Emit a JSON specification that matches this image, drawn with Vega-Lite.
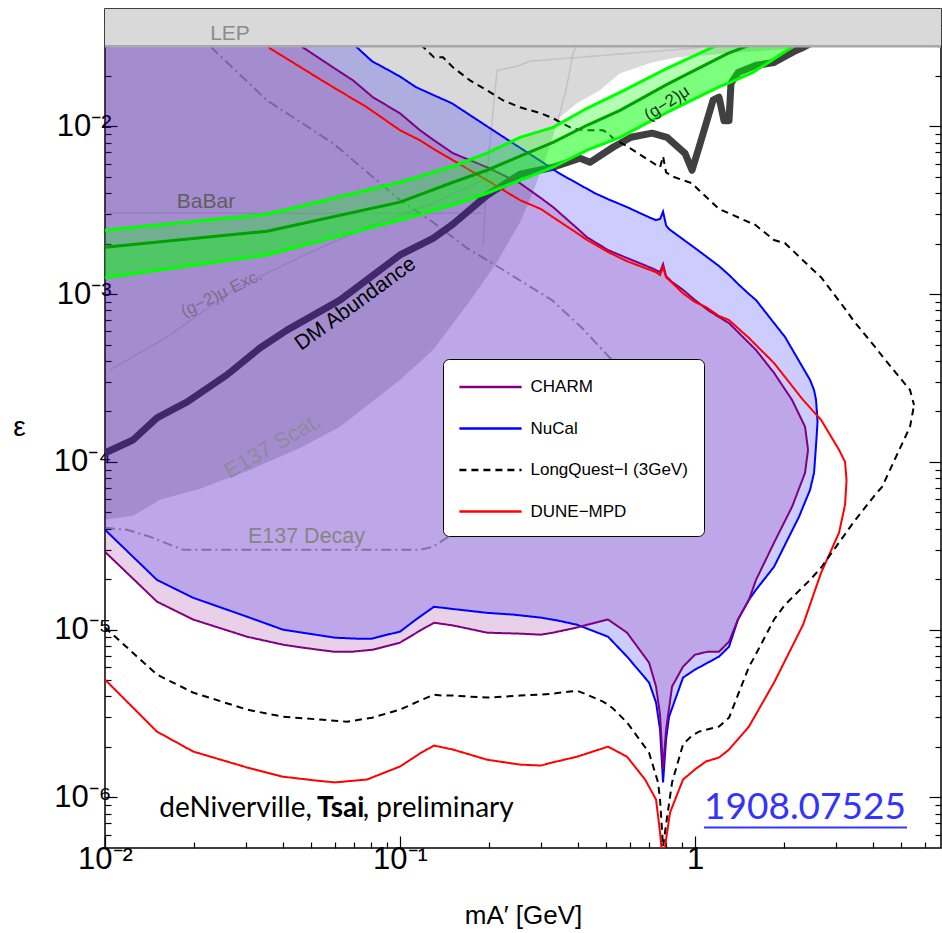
{
"$schema":"https://vega.github.io/schema/vega-lite/v6.json",
"width":836,"height":839,
"autosize":{"type":"none"},
"padding":{"left":105,"top":9,"right":1,"bottom":85},
"background":"white",
"config":{
 "font":"Liberation Sans",
 "view":{"stroke":"black","strokeWidth":1.5},
 "axis":{"domain":false,"grid":false,"tickColor":"black","tickWidth":1.2,"labelColor":"black","titleColor":"black","titleFontWeight":"normal","labelFont":"Liberation Sans","titleFont":"Liberation Sans"}
},
"datasets":{
 "gray":[{"m":0.01,"lo":4.52e-5},{"m":0.01244,"lo":4.77e-5},{"m":0.01536,"lo":5.94e-5},{"m":0.021,"lo":6.91e-5},{"m":0.031,"lo":8.96e-5},{"m":0.0458,"lo":1.21e-4},{"m":0.0626,"lo":1.62e-4},{"m":0.1,"lo":3.08e-4},{"m":0.1294,"lo":4.64e-4},{"m":0.1687,"lo":8.6e-4},{"m":0.2132,"lo":1.55e-3},{"m":0.2551,"lo":2.68e-3},{"m":0.2824,"lo":4.05e-3},{"m":0.3101,"lo":6.27e-3},{"m":0.3379,"lo":9.86e-3},{"m":0.3486,"lo":0.01131},{"m":0.3981,"lo":0.0137},{"m":0.4764,"lo":0.01638},{"m":0.5569,"lo":0.02067},{"m":0.715,"lo":0.024},{"m":0.869,"lo":0.02575},{"m":1.064,"lo":0.02646},{"m":1.3985,"lo":0.02757},{"m":1.796,"lo":0.02835},{"m":2.3237,"lo":0.0295},{"m":2.493,"lo":0.0303}],
 "faint":[
  {"id":"arc","m":0.3379,"e":0.00986},{"id":"arc","m":0.3653,"e":0.01638},{"id":"arc","m":0.3859,"e":0.0272},{"id":"arc","m":0.395,"e":0.03},
  {"id":"babar","m":0.01,"e":0.00303},{"id":"babar","m":0.19,"e":0.00303},
  {"id":"b","m":0.1911,"e":0.00196},{"id":"b","m":0.1972,"e":0.00525},{"id":"b","m":0.2132,"e":0.02153},{"id":"b","m":0.2493,"e":0.02277},{"id":"b","m":0.2759,"e":0.02438},{"id":"b","m":0.8039,"e":0.02835},{"id":"b","m":1.0397,"e":0.0295},
  {"id":"g2exc","m":0.0104,"e":3.53e-4},{"id":"g2exc","m":0.01623,"e":5.55e-4},{"id":"g2exc","m":0.02716,"e":1.06e-3},{"id":"g2exc","m":0.0458,"e":1.66e-3},{"id":"g2exc","m":0.0773,"e":2.51e-3},{"id":"g2exc","m":0.1294,"e":3.48e-3},{"id":"g2exc","m":0.1911,"e":4.77e-3}
 ],
 "e137d":[{"o":1,"m":0.01,"e":4.05e-5},{"o":2,"m":0.01187,"e":3.94e-5},{"o":3,"m":0.01421,"e":3.58e-5},{"o":4,"m":0.01838,"e":2.99e-5},{"o":5,"m":0.0458,"e":2.99e-5},{"o":6,"m":0.1169,"e":2.99e-5},{"o":7,"m":0.1294,"e":3.12e-5},{"o":8,"m":0.1443,"e":3.53e-5},{"o":9,"m":0.2551,"e":5.94e-5},{"o":10,"m":0.651,"e":1.55e-4},{"o":11,"m":0.701,"e":2.68e-4},{"o":12,"m":0.5111,"e":4.22e-4},{"o":13,"m":0.4107,"e":6.37e-4},{"o":14,"m":0.3275,"e":9.21e-4},{"o":15,"m":0.2183,"e":1.43e-3},{"o":16,"m":0.1687,"e":1.88e-3},{"o":17,"m":0.1294,"e":2.68e-3},{"o":18,"m":0.1,"e":3.63e-3},{"o":19,"m":0.0593,"e":7.92e-3},{"o":20,"m":0.0354,"e":0.01428},{"o":21,"m":0.0227,"e":0.03},{"o":22,"m":0.02,"e":0.036}],
 "dm":[{"m":0.01,"e":1.13e-4},{"m":0.01244,"e":1.35e-4},{"m":0.015,"e":1.83e-4},{"m":0.019,"e":2.28e-4},{"m":0.0259,"e":3.3e-4},{"m":0.0335,"e":4.77e-4},{"m":0.0414,"e":6.1e-4},{"m":0.0626,"e":9.21e-4},{"m":0.1,"e":1.71e-3},{"m":0.1294,"e":2.15e-3},{"m":0.1512,"e":2.61e-3},{"m":0.1972,"e":3.88e-3},{"m":0.2551,"e":5.18e-3},{"m":0.3302,"e":5.7e-3},{"m":0.4075,"e":6.45e-3},{"m":0.4406,"e":6.1e-3},{"m":0.5272,"e":7.5e-3},{"m":0.607,"e":8.6e-3},{"m":0.715,"e":9.1e-3},{"m":0.8039,"e":8.6e-3},{"m":0.9251,"e":6.9e-3},{"m":0.9769,"e":5.47e-3},{"m":1.0317,"e":7.5e-3},{"m":1.151,"e":0.0143},{"m":1.206,"e":0.0149},{"m":1.254,"e":0.0108},{"m":1.304,"e":0.0108},{"m":1.324,"e":0.018},{"m":1.399,"e":0.0209},{"m":1.61,"e":0.0231},{"m":1.853,"e":0.024},{"m":2.2,"e":0.0283},{"m":2.3237,"e":0.0295},{"m":2.45,"e":0.031}],
 "curves":[
  {"s":"NuCal","m":0.01,"lo":3.94e-5,"hi":0.05},{"s":"NuCal","m":0.015,"lo":1.98e-5,"hi":0.05},{"s":"NuCal","m":0.01988,"lo":1.55e-5,"hi":0.05},{"s":"NuCal","m":0.0303,"lo":1.195e-5,"hi":0.05},{"s":"NuCal","m":0.04013,"lo":1.0e-5,"hi":0.05},{"s":"NuCal","m":0.06021,"lo":8.96e-6,"hi":0.05},{"s":"NuCal","m":0.0715,"lo":8.84e-6,"hi":0.0295},{"s":"NuCal","m":0.0804,"lo":8.84e-6,"hi":0.0244},{"s":"NuCal","m":0.0876,"lo":9.21e-6,"hi":0.0225},{"s":"NuCal","m":0.1,"lo":9.73e-6,"hi":0.0198},{"s":"NuCal","m":0.1133,"lo":1.15e-5,"hi":0.0171},{"s":"NuCal","m":0.1304,"lo":1.37e-5,"hi":0.0153},{"s":"NuCal","m":0.1501,"lo":1.33e-5,"hi":0.0137},{"s":"NuCal","m":0.1972,"lo":1.26e-5,"hi":0.01},{"s":"NuCal","m":0.2416,"lo":1.23e-5,"hi":0.00792},{"s":"NuCal","m":0.3006,"lo":1.18e-5,"hi":0.00619},{"s":"NuCal","m":0.3459,"lo":1.13e-5,"hi":0.00525},{"s":"NuCal","m":0.3981,"lo":1.07e-5,"hi":0.00458},{"s":"NuCal","m":0.4581,"lo":9.73e-6,"hi":0.00399},{"s":"NuCal","m":0.507,"lo":9.08e-6,"hi":0.00368},{"s":"NuCal","m":0.5882,"lo":6.91e-6,"hi":0.0033},{"s":"NuCal","m":0.6985,"lo":4.84e-6,"hi":0.00287},{"s":"NuCal","m":0.7377,"lo":3.68e-6,"hi":0.00276},{"s":"NuCal","m":0.7611,"lo":2.54e-6,"hi":0.0028},{"s":"NuCal","m":0.7792,"lo":1.23e-6,"hi":0.0031},{"s":"NuCal","m":0.7977,"lo":2.21e-6,"hi":0.00257},{"s":"NuCal","m":0.8166,"lo":3.03e-6,"hi":0.00244},{"s":"NuCal","m":0.9107,"lo":5.18e-6,"hi":0.00212},{"s":"NuCal","m":1.0,"lo":5.78e-6,"hi":0.00188},{"s":"NuCal","m":1.206,"lo":6.91e-6,"hi":0.00147},{"s":"NuCal","m":1.304,"lo":7.92e-6,"hi":0.0013},{"s":"NuCal","m":1.3985,"lo":1.15e-5,"hi":0.00115},{"s":"NuCal","m":1.524,"lo":1.51e-5,"hi":0.001},{"s":"NuCal","m":1.61,"lo":1.73e-5,"hi":9.21e-4},{"s":"NuCal","m":1.853,"lo":2.37e-5,"hi":6.72e-4},{"s":"NuCal","m":2.019,"lo":3.21e-5,"hi":5.55e-4},{"s":"NuCal","m":2.252,"lo":4.71e-5,"hi":3.99e-4},{"s":"NuCal","m":2.454,"lo":6.81e-5,"hi":3.08e-4},{"s":"NuCal","m":2.532,"lo":8.6e-5,"hi":2.68e-4},{"s":"NuCal","m":2.572,"lo":1.26e-4,"hi":2.34e-4},{"s":"NuCal","m":2.602,"lo":1.73e-4,"hi":1.73e-4},
  {"s":"CHARM","m":0.01,"lo":2.91e-5,"hi":0.05},{"s":"CHARM","m":0.015,"lo":1.47e-5,"hi":0.05},{"s":"CHARM","m":0.01988,"lo":1.15e-5,"hi":0.05},{"s":"CHARM","m":0.0303,"lo":9.08e-6,"hi":0.05},{"s":"CHARM","m":0.04013,"lo":8.14e-6,"hi":0.05},{"s":"CHARM","m":0.04691,"lo":7.81e-6,"hi":0.0295},{"s":"CHARM","m":0.05928,"lo":7.4e-6,"hi":0.02245},{"s":"CHARM","m":0.06929,"lo":7.4e-6,"hi":0.01878},{"s":"CHARM","m":0.081,"lo":7.6e-6,"hi":0.01488},{"s":"CHARM","m":0.1,"lo":8.37e-6,"hi":0.01195},{"s":"CHARM","m":0.1169,"lo":9.87e-6,"hi":0.00947},{"s":"CHARM","m":0.1304,"lo":1.1e-5,"hi":0.00825},{"s":"CHARM","m":0.1512,"lo":1.06e-5,"hi":0.00691},{"s":"CHARM","m":0.1972,"lo":9.6e-6,"hi":0.0057},{"s":"CHARM","m":0.2551,"lo":9.47e-6,"hi":0.00458},{"s":"CHARM","m":0.3006,"lo":9.34e-6,"hi":0.00373},{"s":"CHARM","m":0.3302,"lo":9.6e-6,"hi":0.0033},{"s":"CHARM","m":0.3981,"lo":1.03e-5,"hi":0.00247},{"s":"CHARM","m":0.4305,"lo":1.07e-5,"hi":0.00218},{"s":"CHARM","m":0.507,"lo":1.15e-5,"hi":0.00183},{"s":"CHARM","m":0.5882,"lo":9.6e-6,"hi":0.00164},{"s":"CHARM","m":0.6985,"lo":6.36e-6,"hi":0.00145},{"s":"CHARM","m":0.7377,"lo":4.58e-6,"hi":0.00139},{"s":"CHARM","m":0.7611,"lo":3.12e-6,"hi":0.00135},{"s":"CHARM","m":0.7792,"lo":1.47e-6,"hi":0.00151},{"s":"CHARM","m":0.7977,"lo":2.54e-6,"hi":0.00128},{"s":"CHARM","m":0.8359,"lo":4.58e-6,"hi":0.00118},{"s":"CHARM","m":0.9107,"lo":6.02e-6,"hi":0.00106},{"s":"CHARM","m":1.0,"lo":7.1e-6,"hi":9.21e-4},{"s":"CHARM","m":1.1067,"lo":7.4e-6,"hi":8.03e-4},{"s":"CHARM","m":1.206,"lo":7.4e-6,"hi":7.29e-4},{"s":"CHARM","m":1.304,"lo":8.48e-6,"hi":6.72e-4},{"s":"CHARM","m":1.3985,"lo":1.15e-5,"hi":5.94e-4},{"s":"CHARM","m":1.524,"lo":1.51e-5,"hi":5.11e-4},{"s":"CHARM","m":1.61,"lo":1.98e-5,"hi":4.64e-4},{"s":"CHARM","m":1.853,"lo":3.3e-5,"hi":3.39e-4},{"s":"CHARM","m":2.1327,"lo":5.4e-5,"hi":2.34e-4},{"s":"CHARM","m":2.36,"lo":8.6e-5,"hi":1.62e-4},{"s":"CHARM","m":2.416,"lo":1.18e-4,"hi":1.18e-4},
  {"s":"DUNE−MPD","m":0.01,"lo":5.04e-6,"hi":0.05},{"s":"DUNE−MPD","m":0.015,"lo":2.47e-6,"hi":0.05},{"s":"DUNE−MPD","m":0.01988,"lo":1.88e-6,"hi":0.05},{"s":"DUNE−MPD","m":0.0303,"lo":1.51e-6,"hi":0.05},{"s":"DUNE−MPD","m":0.03626,"lo":1.39e-6,"hi":0.0291},{"s":"DUNE−MPD","m":0.04013,"lo":1.33e-6,"hi":0.0261},{"s":"DUNE−MPD","m":0.05232,"lo":1.26e-6,"hi":0.01957},{"s":"DUNE−MPD","m":0.06021,"lo":1.23e-6,"hi":0.01684},{"s":"DUNE−MPD","m":0.0773,"lo":1.28e-6,"hi":0.01297},{"s":"DUNE−MPD","m":0.1,"lo":1.53e-6,"hi":0.00947},{"s":"DUNE−MPD","m":0.1169,"lo":1.83e-6,"hi":0.00825},{"s":"DUNE−MPD","m":0.1304,"lo":2.04e-6,"hi":0.0073},{"s":"DUNE−MPD","m":0.1512,"lo":1.93e-6,"hi":0.00627},{"s":"DUNE−MPD","m":0.1972,"lo":1.68e-6,"hi":0.00477},{"s":"DUNE−MPD","m":0.2551,"lo":1.57e-6,"hi":0.00363},{"s":"DUNE−MPD","m":0.3006,"lo":1.55e-6,"hi":0.00321},{"s":"DUNE−MPD","m":0.3302,"lo":1.62e-6,"hi":0.00287},{"s":"DUNE−MPD","m":0.3981,"lo":1.75e-6,"hi":0.00231},{"s":"DUNE−MPD","m":0.4305,"lo":1.83e-6,"hi":0.0021},{"s":"DUNE−MPD","m":0.507,"lo":2.01e-6,"hi":0.00178},{"s":"DUNE−MPD","m":0.5882,"lo":1.75e-6,"hi":0.00157},{"s":"DUNE−MPD","m":0.677,"lo":1.28e-6,"hi":0.00143},{"s":"DUNE−MPD","m":0.7377,"lo":9.73e-7,"hi":0.00135},{"s":"DUNE−MPD","m":0.7611,"lo":6.19e-7,"hi":0.0013},{"s":"DUNE−MPD","m":0.7792,"lo":4e-7,"hi":0.00145},{"s":"DUNE−MPD","m":0.7977,"lo":5.62e-7,"hi":0.00126},{"s":"DUNE−MPD","m":0.823,"lo":8.14e-7,"hi":0.0012},{"s":"DUNE−MPD","m":0.9107,"lo":1.28e-6,"hi":0.00101},{"s":"DUNE−MPD","m":1.0,"lo":1.47e-6,"hi":8.96e-4},{"s":"DUNE−MPD","m":1.0896,"lo":1.64e-6,"hi":8.37e-4},{"s":"DUNE−MPD","m":1.206,"lo":1.73e-6,"hi":7.4e-4},{"s":"DUNE−MPD","m":1.304,"lo":1.93e-6,"hi":7.0e-4},{"s":"DUNE−MPD","m":1.524,"lo":2.65e-6,"hi":5.47e-4},{"s":"DUNE−MPD","m":1.853,"lo":4.84e-6,"hi":3.88e-4},{"s":"DUNE−MPD","m":2.3237,"lo":1.07e-5,"hi":2.34e-4},{"s":"DUNE−MPD","m":2.674,"lo":2.18e-5,"hi":1.78e-4},{"s":"DUNE−MPD","m":3.077,"lo":3.78e-5,"hi":1.18e-4},{"s":"DUNE−MPD","m":3.225,"lo":5.55e-5,"hi":1.0e-4},{"s":"DUNE−MPD","m":3.263,"lo":7.8e-5,"hi":7.8e-5},
  {"s":"LongQuest−I (3GeV)","m":0.01,"lo":1.03e-5,"hi":0.05},{"s":"LongQuest−I (3GeV)","m":0.015,"lo":5.4e-6,"hi":0.05},{"s":"LongQuest−I (3GeV)","m":0.01988,"lo":4.22e-6,"hi":0.05},{"s":"LongQuest−I (3GeV)","m":0.0303,"lo":3.34e-6,"hi":0.05},{"s":"LongQuest−I (3GeV)","m":0.04013,"lo":3.03e-6,"hi":0.05},{"s":"LongQuest−I (3GeV)","m":0.06612,"lo":2.83e-6,"hi":0.05},{"s":"LongQuest−I (3GeV)","m":0.08037,"lo":2.99e-6,"hi":0.05},{"s":"LongQuest−I (3GeV)","m":0.1,"lo":3.34e-6,"hi":0.05},{"s":"LongQuest−I (3GeV)","m":0.1169,"lo":3.78e-6,"hi":0.031},{"s":"LongQuest−I (3GeV)","m":0.1304,"lo":4.1e-6,"hi":0.02575},{"s":"LongQuest−I (3GeV)","m":0.1399,"lo":4.05e-6,"hi":0.02575},{"s":"LongQuest−I (3GeV)","m":0.1512,"lo":4.05e-6,"hi":0.02245},{"s":"LongQuest−I (3GeV)","m":0.1727,"lo":3.99e-6,"hi":0.01878},{"s":"LongQuest−I (3GeV)","m":0.1972,"lo":3.94e-6,"hi":0.01638},{"s":"LongQuest−I (3GeV)","m":0.2235,"lo":3.99e-6,"hi":0.01428},{"s":"LongQuest−I (3GeV)","m":0.2551,"lo":4.05e-6,"hi":0.01297},{"s":"LongQuest−I (3GeV)","m":0.3006,"lo":4.1e-6,"hi":0.01195},{"s":"LongQuest−I (3GeV)","m":0.3302,"lo":4.16e-6,"hi":0.01116},{"s":"LongQuest−I (3GeV)","m":0.377,"lo":4.28e-6,"hi":0.00986},{"s":"LongQuest−I (3GeV)","m":0.3981,"lo":4.33e-6,"hi":0.0096},{"s":"LongQuest−I (3GeV)","m":0.4305,"lo":4.1e-6,"hi":0.00947},{"s":"LongQuest−I (3GeV)","m":0.4876,"lo":3.73e-6,"hi":0.00947},{"s":"LongQuest−I (3GeV)","m":0.507,"lo":3.58e-6,"hi":0.00908},{"s":"LongQuest−I (3GeV)","m":0.5272,"lo":3.39e-6,"hi":0.00848},{"s":"LongQuest−I (3GeV)","m":0.5882,"lo":2.8e-6,"hi":0.0076},{"s":"LongQuest−I (3GeV)","m":0.6985,"lo":1.85e-6,"hi":0.00627},{"s":"LongQuest−I (3GeV)","m":0.7493,"lo":1.23e-6,"hi":0.00578},{"s":"LongQuest−I (3GeV)","m":0.7611,"lo":9.73e-7,"hi":0.0057},{"s":"LongQuest−I (3GeV)","m":0.7792,"lo":5.11e-7,"hi":0.00663},{"s":"LongQuest−I (3GeV)","m":0.7977,"lo":6.91e-7,"hi":0.00532},{"s":"LongQuest−I (3GeV)","m":0.8359,"lo":1.23e-6,"hi":0.00504},{"s":"LongQuest−I (3GeV)","m":0.9107,"lo":2.07e-6,"hi":0.00477},{"s":"LongQuest−I (3GeV)","m":0.9769,"lo":2.34e-6,"hi":0.00458},{"s":"LongQuest−I (3GeV)","m":1.0317,"lo":2.47e-6,"hi":0.00416},{"s":"LongQuest−I (3GeV)","m":1.206,"lo":2.65e-6,"hi":0.00321},{"s":"LongQuest−I (3GeV)","m":1.304,"lo":2.99e-6,"hi":0.00303},{"s":"LongQuest−I (3GeV)","m":1.524,"lo":6.02e-6,"hi":0.00268},{"s":"LongQuest−I (3GeV)","m":1.5725,"lo":6.63e-6,"hi":0.00265},{"s":"LongQuest−I (3GeV)","m":1.853,"lo":1.15e-5,"hi":0.0021},{"s":"LongQuest−I (3GeV)","m":2.019,"lo":1.41e-5,"hi":0.00201},{"s":"LongQuest−I (3GeV)","m":2.454,"lo":1.98e-5,"hi":0.00145},{"s":"LongQuest−I (3GeV)","m":2.674,"lo":2.34e-5,"hi":0.00126},{"s":"LongQuest−I (3GeV)","m":3.25,"lo":3.78e-5,"hi":8.03e-4},{"s":"LongQuest−I (3GeV)","m":3.433,"lo":4.33e-5,"hi":7.0e-4},{"s":"LongQuest−I (3GeV)","m":4.076,"lo":6.36e-5,"hi":4.84e-4},{"s":"LongQuest−I (3GeV)","m":4.305,"lo":7.1e-5,"hi":4.28e-4},{"s":"LongQuest−I (3GeV)","m":5.356,"lo":1.62e-4,"hi":2.68e-4},{"s":"LongQuest−I (3GeV)","m":5.526,"lo":2.18e-4,"hi":2.18e-4}
 ],
 "g2":[{"m":0.01,"top":2.4e-3,"cen":1.9e-3,"bot":1.25e-3},{"m":0.03542,"top":2.99e-3,"cen":2.37e-3,"bot":1.71e-3},{"m":0.1,"top":4.64e-3,"cen":3.53e-3,"bot":2.76e-3},{"m":0.1512,"top":5.78e-3,"cen":4.64e-3,"bot":3.39e-3},{"m":0.1972,"top":6.91e-3,"cen":5.47e-3,"bot":3.99e-3},{"m":0.2551,"top":8.6e-3,"cen":6.63e-3,"bot":4.77e-3},{"m":0.3302,"top":9.86e-3,"cen":8.03e-3,"bot":5.7e-3},{"m":0.4305,"top":0.0128,"cen":0.01014,"bot":7.2e-3},{"m":0.5569,"top":0.01594,"cen":0.01245,"bot":8.6e-3},{"m":0.8039,"top":0.02214,"cen":0.01778,"bot":0.01211},{"m":1.2155,"top":0.031,"cen":0.02575,"bot":0.0173},{"m":1.2939,"top":0.04,"cen":0.0272,"bot":0.01803},{"m":1.5725,"top":0.04,"cen":0.031,"bot":0.02096},{"m":2.1327,"top":0.04,"cen":0.04,"bot":0.02953},{"m":2.27,"top":0.04,"cen":0.04,"bot":0.032}],
 "lep":[{"m1":0.01,"m2":6.82,"e1":0.03,"e2":0.05}]
},
"resolve":{"axis":{"x":"independent","y":"independent"}},
"layer":[
 {"data":{"name":"gray"},"mark":{"type":"area","color":"black","opacity":0.15,"clip":true},
  "encoding":{
   "x":{"field":"m","type":"quantitative","scale":{"type":"log","domain":[0.01,6.82],"nice":false},
    "axis":{"orient":"bottom","title":"mA′ [GeV]","values":[0.01,0.02,0.03,0.04,0.05,0.06,0.07,0.08,0.09,0.1,0.2,0.3,0.4,0.5,0.6,0.7,0.8,0.9,1,2,3,4,5,6],
     "labelExpr":"datum.value==0.01?'10⁻²':datum.value==0.1?'10⁻¹':datum.value==1?'1':''","labelFlush":false,"labelOverlap":false,"labelFontSize":31,"labelPadding":8,
     "tickSize":{"condition":{"test":"datum.value==0.01||datum.value==0.1||datum.value==1","value":-12},"value":-6},
     "titleFontSize":26,"titleY":67,"titleBaseline":"middle"}},
   "y":{"field":"lo","type":"quantitative","scale":{"type":"log","domain":[5e-7,0.05],"nice":false},
    "axis":{"orient":"left","title":"ε","values":[6e-7,7e-7,8e-7,9e-7,1e-6,2e-6,3e-6,4e-6,5e-6,6e-6,7e-6,8e-6,9e-6,1e-5,2e-5,3e-5,4e-5,5e-5,6e-5,7e-5,8e-5,9e-5,1e-4,2e-4,3e-4,4e-4,5e-4,6e-4,7e-4,8e-4,9e-4,0.001,0.002,0.003,0.004,0.005,0.006,0.007,0.008,0.009,0.01,0.02,0.03,0.04],
     "labelExpr":"datum.value==0.01?'10⁻²':datum.value==0.001?'10⁻³':datum.value==0.0001?'10⁻⁴':datum.value==0.00001?'10⁻⁵':datum.value==0.000001?'10⁻⁶':''","labelFlush":false,"labelOverlap":false,"labelFontSize":31,"labelPadding":6,
     "tickSize":{"condition":{"test":"datum.value==0.01||datum.value==0.001||datum.value==0.0001||datum.value==0.00001||datum.value==0.000001","value":-12},"value":-6},
     "titleFontSize":28,"titleAngle":0,"titleX":-86,"titleY":418,"titleAlign":"center","titleBaseline":"middle"}},
   "y2":{"datum":0.05}}},
 {"data":{"name":"faint"},"mark":{"type":"line","color":"#b4b4b4","opacity":0.6,"strokeWidth":1.5,"clip":true},
  "encoding":{"x":{"field":"m","type":"quantitative","scale":{"type":"log","domain":[0.01,6.82],"nice":false},"axis":null},
   "y":{"field":"e","type":"quantitative","scale":{"type":"log","domain":[5e-7,0.05],"nice":false},"axis":null},
   "detail":{"field":"id"}}},
 {"data":{"name":"e137d"},"mark":{"type":"line","color":"#707070","opacity":0.6,"strokeWidth":2,"strokeDash":[10,4,2,4],"clip":true},
  "encoding":{"x":{"field":"m","type":"quantitative","scale":{"type":"log","domain":[0.01,6.82],"nice":false},"axis":null},
   "y":{"field":"e","type":"quantitative","scale":{"type":"log","domain":[5e-7,0.05],"nice":false},"axis":null},
   "order":{"field":"o"}}},
 {"data":{"name":"dm"},"mark":{"type":"line","color":"#404040","strokeWidth":7,"strokeJoin":"round","clip":true},
  "encoding":{"x":{"field":"m","type":"quantitative","scale":{"type":"log","domain":[0.01,6.82],"nice":false},"axis":null},
   "y":{"field":"e","type":"quantitative","scale":{"type":"log","domain":[5e-7,0.05],"nice":false},"axis":null}}},
 {"data":{"name":"curves"},"transform":[{"filter":"datum.s=='NuCal'"}],"mark":{"type":"area","color":"#0000ff","opacity":0.2,"clip":true},
  "encoding":{"x":{"field":"m","type":"quantitative","scale":{"type":"log","domain":[0.01,6.82],"nice":false},"axis":null},
   "y":{"field":"lo","type":"quantitative","scale":{"type":"log","domain":[5e-7,0.05],"nice":false},"axis":null},
   "y2":{"field":"hi"}}},
 {"data":{"name":"curves"},"transform":[{"filter":"datum.s=='CHARM'"}],"mark":{"type":"area","color":"#800080","opacity":0.18,"clip":true},
  "encoding":{"x":{"field":"m","type":"quantitative","scale":{"type":"log","domain":[0.01,6.82],"nice":false},"axis":null},
   "y":{"field":"lo","type":"quantitative","scale":{"type":"log","domain":[5e-7,0.05],"nice":false},"axis":null},
   "y2":{"field":"hi"}}},
 {"data":{"name":"curves"},"mark":{"type":"line","strokeWidth":2,"clip":true},
  "encoding":{"x":{"field":"m","type":"quantitative","scale":{"type":"log","domain":[0.01,6.82],"nice":false},"axis":null},
   "y":{"field":"lo","type":"quantitative","scale":{"type":"log","domain":[5e-7,0.05],"nice":false},"axis":null},
   "color":{"field":"s","type":"nominal","scale":{"domain":["CHARM","NuCal","LongQuest−I (3GeV)","DUNE−MPD"],"range":["#800080","#0000ff","#000000","#ff0000"]},
    "legend":{"title":null,"orient":"none","legendX":338,"legendY":350,"fillColor":"white","strokeColor":"black","cornerRadius":6,"padding":16,"labelFontSize":17,"labelLimit":400,"labelFont":"Liberation Sans","labelColor":"black","symbolType":"M-3,0H3","symbolSize":430,"symbolStrokeWidth":2.5,"symbolOffset":19.5,"labelOffset":28,"rowPadding":21.5}},
   "strokeDash":{"field":"s","type":"nominal","scale":{"domain":["CHARM","NuCal","LongQuest−I (3GeV)","DUNE−MPD"],"range":[[1,0],[1,0],[7,5],[1,0]]},
    "legend":{"title":null,"orient":"none","legendX":338,"legendY":350,"fillColor":"white","strokeColor":"black","cornerRadius":6,"padding":16,"labelFontSize":17,"labelLimit":400,"labelFont":"Liberation Sans","labelColor":"black","symbolType":"M-3,0H3","symbolSize":430,"symbolStrokeWidth":2.5,"symbolOffset":19.5,"labelOffset":28,"rowPadding":21.5}}}},
 {"data":{"name":"curves"},"mark":{"type":"line","strokeWidth":2,"clip":true},
  "encoding":{"x":{"field":"m","type":"quantitative","scale":{"type":"log","domain":[0.01,6.82],"nice":false},"axis":null},
   "y":{"field":"hi","type":"quantitative","scale":{"type":"log","domain":[5e-7,0.05],"nice":false},"axis":null},
   "color":{"field":"s","type":"nominal","scale":{"domain":["CHARM","NuCal","LongQuest−I (3GeV)","DUNE−MPD"],"range":["#800080","#0000ff","#000000","#ff0000"]},
    "legend":{"title":null,"orient":"none","legendX":338,"legendY":350,"fillColor":"white","strokeColor":"black","cornerRadius":6,"padding":16,"labelFontSize":17,"labelLimit":400,"labelFont":"Liberation Sans","labelColor":"black","symbolType":"M-3,0H3","symbolSize":430,"symbolStrokeWidth":2.5,"symbolOffset":19.5,"labelOffset":28,"rowPadding":21.5}},
   "strokeDash":{"field":"s","type":"nominal","scale":{"domain":["CHARM","NuCal","LongQuest−I (3GeV)","DUNE−MPD"],"range":[[1,0],[1,0],[7,5],[1,0]]},
    "legend":{"title":null,"orient":"none","legendX":338,"legendY":350,"fillColor":"white","strokeColor":"black","cornerRadius":6,"padding":16,"labelFontSize":17,"labelLimit":400,"labelFont":"Liberation Sans","labelColor":"black","symbolType":"M-3,0H3","symbolSize":430,"symbolStrokeWidth":2.5,"symbolOffset":19.5,"labelOffset":28,"rowPadding":21.5}}}},
 {"data":{"name":"g2"},"mark":{"type":"area","color":"#00ff00","opacity":0.3,"clip":true},
  "encoding":{"x":{"field":"m","type":"quantitative","scale":{"type":"log","domain":[0.01,6.82],"nice":false},"axis":null},
   "y":{"field":"bot","type":"quantitative","scale":{"type":"log","domain":[5e-7,0.05],"nice":false},"axis":null},"y2":{"field":"top"}}},
 {"data":{"name":"g2"},"mark":{"type":"area","color":"#00ff00","opacity":0.3,"clip":true},
  "encoding":{"x":{"field":"m","type":"quantitative","scale":{"type":"log","domain":[0.01,6.82],"nice":false},"axis":null},
   "y":{"field":"bot","type":"quantitative","scale":{"type":"log","domain":[5e-7,0.05],"nice":false},"axis":null},"y2":{"field":"cen"}}},
 {"data":{"name":"g2"},"mark":{"type":"line","color":"#00ff00","strokeWidth":3,"clip":true},
  "encoding":{"x":{"field":"m","type":"quantitative","scale":{"type":"log","domain":[0.01,6.82],"nice":false},"axis":null},
   "y":{"field":"top","type":"quantitative","scale":{"type":"log","domain":[5e-7,0.05],"nice":false},"axis":null}}},
 {"data":{"name":"g2"},"mark":{"type":"line","color":"#00a000","strokeWidth":3,"clip":true},
  "encoding":{"x":{"field":"m","type":"quantitative","scale":{"type":"log","domain":[0.01,6.82],"nice":false},"axis":null},
   "y":{"field":"cen","type":"quantitative","scale":{"type":"log","domain":[5e-7,0.05],"nice":false},"axis":null}}},
 {"data":{"name":"g2"},"mark":{"type":"line","color":"#00ff00","strokeWidth":3,"clip":true},
  "encoding":{"x":{"field":"m","type":"quantitative","scale":{"type":"log","domain":[0.01,6.82],"nice":false},"axis":null},
   "y":{"field":"bot","type":"quantitative","scale":{"type":"log","domain":[5e-7,0.05],"nice":false},"axis":null}}},
 {"data":{"name":"lep"},"mark":{"type":"rect","color":"#d9d9d9","clip":true},
  "encoding":{
   "x":{"field":"m1","type":"quantitative","scale":{"type":"log","domain":[0.01,6.82],"nice":false},
    "axis":{"orient":"top","title":null,"labels":false,"values":[0.01,0.02,0.03,0.04,0.05,0.06,0.07,0.08,0.09,0.1,0.2,0.3,0.4,0.5,0.6,0.7,0.8,0.9,1,2,3,4,5,6],
     "tickSize":{"condition":{"test":"datum.value==0.01||datum.value==0.1||datum.value==1","value":-12},"value":-6}}},
   "x2":{"field":"m2"},
   "y":{"field":"e1","type":"quantitative","scale":{"type":"log","domain":[5e-7,0.05],"nice":false},
    "axis":{"orient":"right","title":null,"labels":false,"values":[6e-7,7e-7,8e-7,9e-7,1e-6,2e-6,3e-6,4e-6,5e-6,6e-6,7e-6,8e-6,9e-6,1e-5,2e-5,3e-5,4e-5,5e-5,6e-5,7e-5,8e-5,9e-5,1e-4,2e-4,3e-4,4e-4,5e-4,6e-4,7e-4,8e-4,9e-4,0.001,0.002,0.003,0.004,0.005,0.006,0.007,0.008,0.009,0.01,0.02,0.03,0.04],
     "tickSize":{"condition":{"test":"datum.value==0.01||datum.value==0.001||datum.value==0.0001||datum.value==0.00001||datum.value==0.000001","value":-12},"value":-6}}},
   "y2":{"field":"e2"}}},
 {"data":{"name":"lep"},"mark":{"type":"rule","color":"#a8a8a8","strokeWidth":2.5,"clip":true},
  "encoding":{"y":{"field":"e1","type":"quantitative","scale":{"type":"log","domain":[5e-7,0.05],"nice":false},"axis":null}}},
 {"data":{"values":[{"m":0.02653,"e":0.0353,"t":"LEP"}]},"mark":{"type":"text","fontSize":21,"color":"#8c8c8c","align":"center","baseline":"middle"},
  "encoding":{"x":{"field":"m","type":"quantitative","scale":{"type":"log","domain":[0.01,6.82],"nice":false},"axis":null},"y":{"field":"e","type":"quantitative","scale":{"type":"log","domain":[5e-7,0.05],"nice":false},"axis":null},"text":{"field":"t"}}},
 {"data":{"values":[{"m":0.022,"e":0.00353,"t":"BaBar"}]},"mark":{"type":"text","fontSize":21,"color":"#5e5e5e","align":"center","baseline":"middle"},
  "encoding":{"x":{"field":"m","type":"quantitative","scale":{"type":"log","domain":[0.01,6.82],"nice":false},"axis":null},"y":{"field":"e","type":"quantitative","scale":{"type":"log","domain":[5e-7,0.05],"nice":false},"axis":null},"text":{"field":"t"}}},
 {"data":{"values":[{"m":0.02483,"e":0.001007,"t":"(g−2)μ Exc."}]},"mark":{"type":"text","fontSize":17,"color":"#7a7088","align":"center","baseline":"middle","angle":334},
  "encoding":{"x":{"field":"m","type":"quantitative","scale":{"type":"log","domain":[0.01,6.82],"nice":false},"axis":null},"y":{"field":"e","type":"quantitative","scale":{"type":"log","domain":[5e-7,0.05],"nice":false},"axis":null},"text":{"field":"t"}}},
 {"data":{"values":[{"m":0.07067,"e":0.000872,"t":"DM Abundance"}]},"mark":{"type":"text","fontSize":21,"color":"black","align":"center","baseline":"middle","angle":324},
  "encoding":{"x":{"field":"m","type":"quantitative","scale":{"type":"log","domain":[0.01,6.82],"nice":false},"axis":null},"y":{"field":"e","type":"quantitative","scale":{"type":"log","domain":[5e-7,0.05],"nice":false},"axis":null},"text":{"field":"t"}}},
 {"data":{"values":[{"m":0.03697,"e":0.0001245,"t":"E137 Scat."}]},"mark":{"type":"text","fontSize":22,"color":"#8e8a9e","align":"center","baseline":"middle","angle":330},
  "encoding":{"x":{"field":"m","type":"quantitative","scale":{"type":"log","domain":[0.01,6.82],"nice":false},"axis":null},"y":{"field":"e","type":"quantitative","scale":{"type":"log","domain":[5e-7,0.05],"nice":false},"axis":null},"text":{"field":"t"}}},
 {"data":{"values":[{"m":0.04819,"e":0.0000355,"t":"E137 Decay"}]},"mark":{"type":"text","fontSize":21.5,"color":"#858585","align":"center","baseline":"middle"},
  "encoding":{"x":{"field":"m","type":"quantitative","scale":{"type":"log","domain":[0.01,6.82],"nice":false},"axis":null},"y":{"field":"e","type":"quantitative","scale":{"type":"log","domain":[5e-7,0.05],"nice":false},"axis":null},"text":{"field":"t"}}},
 {"data":{"values":[{"m":0.8039,"e":0.0137,"t":"(g−2)μ"}]},"mark":{"type":"text","fontSize":17,"color":"#1a331a","align":"center","baseline":"middle","angle":327},
  "encoding":{"x":{"field":"m","type":"quantitative","scale":{"type":"log","domain":[0.01,6.82],"nice":false},"axis":null},"y":{"field":"e","type":"quantitative","scale":{"type":"log","domain":[5e-7,0.05],"nice":false},"axis":null},"text":{"field":"t"}}},
 {"data":{"values":[{"m":0.01528,"e":7.7e-7,"t":"deNiverville,"}]},"mark":{"type":"text","font":"Lato","fontSize":28,"color":"black","align":"left","baseline":"alphabetic"},
  "encoding":{"x":{"field":"m","type":"quantitative","scale":{"type":"log","domain":[0.01,6.82],"nice":false},"axis":null},"y":{"field":"e","type":"quantitative","scale":{"type":"log","domain":[5e-7,0.05],"nice":false},"axis":null},"text":{"field":"t"}}},
 {"data":{"values":[{"m":0.05232,"e":7.7e-7,"t":"Tsai"}]},"mark":{"type":"text","font":"Lato","fontSize":28,"fontWeight":"bold","color":"black","align":"left","baseline":"alphabetic"},
  "encoding":{"x":{"field":"m","type":"quantitative","scale":{"type":"log","domain":[0.01,6.82],"nice":false},"axis":null},"y":{"field":"e","type":"quantitative","scale":{"type":"log","domain":[5e-7,0.05],"nice":false},"axis":null},"text":{"field":"t"}}},
 {"data":{"values":[{"m":0.0748,"e":7.7e-7,"t":", preliminary"}]},"mark":{"type":"text","font":"Lato","fontSize":28,"color":"black","align":"left","baseline":"alphabetic"},
  "encoding":{"x":{"field":"m","type":"quantitative","scale":{"type":"log","domain":[0.01,6.82],"nice":false},"axis":null},"y":{"field":"e","type":"quantitative","scale":{"type":"log","domain":[5e-7,0.05],"nice":false},"axis":null},"text":{"field":"t"}}},
 {"data":{"values":[{"m":1.073,"e":7.4e-7,"t":"1908.07525"}]},"mark":{"type":"text","font":"Lato","fontSize":37,"color":"#3333ff","align":"left","baseline":"alphabetic"},
  "encoding":{"x":{"field":"m","type":"quantitative","scale":{"type":"log","domain":[0.01,6.82],"nice":false},"axis":null},"y":{"field":"e","type":"quantitative","scale":{"type":"log","domain":[5e-7,0.05],"nice":false},"axis":null},"text":{"field":"t"}}},
 {"data":{"values":[{"m1":1.073,"m2":5.23,"e":6.63e-7}]},"mark":{"type":"rule","color":"#3333ff","strokeWidth":2},
  "encoding":{"x":{"field":"m1","type":"quantitative","scale":{"type":"log","domain":[0.01,6.82],"nice":false},"axis":null},"x2":{"field":"m2"},"y":{"field":"e","type":"quantitative","scale":{"type":"log","domain":[5e-7,0.05],"nice":false},"axis":null}}}
]
}
